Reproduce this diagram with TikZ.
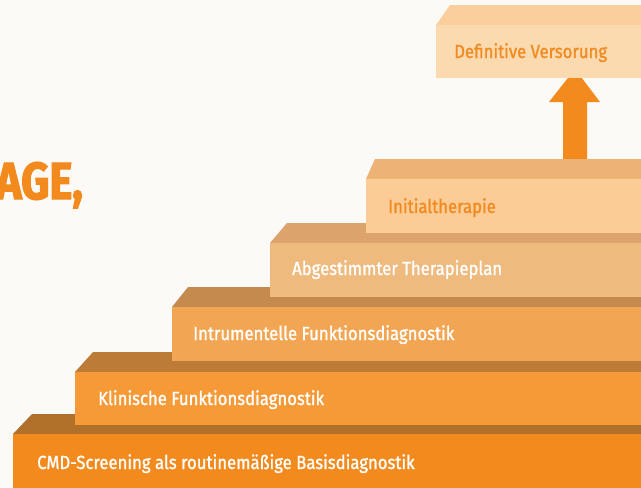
\documentclass[tikz,border=0pt]{standalone}
\usepackage{fontspec}
\setmainfont{Fira Sans}[FakeStretch=0.86]
\newfontfamily\lblfont{Fira Sans}[FakeStretch=0.88,FakeBold=1.2]
\newfontfamily\agefont{Fira Sans}[FakeStretch=0.84,FakeBold=2.5]
\definecolor{bg}{HTML}{FCFAF7}
\definecolor{f1}{HTML}{F28A1D}\definecolor{t1}{HTML}{B0702A}
\definecolor{f2}{HTML}{F59A37}\definecolor{t2}{HTML}{BC7B36}
\definecolor{f3}{HTML}{F2A653}\definecolor{t3}{HTML}{C58A4E}
\definecolor{f4}{HTML}{EEBA7D}\definecolor{t4}{HTML}{DCA46C}
\definecolor{f5}{HTML}{FBCC95}\definecolor{t5}{HTML}{EDB276}
\definecolor{f6}{HTML}{FCDAB0}\definecolor{t6}{HTML}{FBCF9C}
\definecolor{txto}{HTML}{F08B22}
\tikzset{
  lbl/.style={anchor=base west, inner sep=0pt, font=\lblfont\fontsize{19}{22}\selectfont},
  lblw/.style={lbl, text=white},
  lblo/.style={lbl, text=txto},
}
\newcommand{\stair}[7]{% xl, dx, yt, yf, yb, front, top
  \fill[#7] (#1,#4) -- (#1+#2,#3) -- (645,#3) -- (645,#4) -- cycle;
  \fill[#6] (#1,#4) rectangle (645,#5);
}
\begin{document}
\begin{tikzpicture}[x=1pt,y=-1pt]
\useasboundingbox (0,0) rectangle (641,488);
\clip (0,0) rectangle (641,488);
\fill[bg] (0,0) rectangle (641,488);
\node[anchor=base east, inner sep=0pt, text=f1, font=\agefont\fontsize{52}{56}\selectfont\bfseries] (age) at (83,199) {AGE,};
\stair{13}{19}{414}{434}{492}{f1}{t1}
\stair{75}{18}{352}{372}{425}{f2}{t2}
\stair{172}{16}{287}{307}{361}{f3}{t3}
\stair{270}{17}{223}{243}{297}{f4}{t4}
% arrow
\fill[f1] (563,168) -- (563,102) -- (549,102) -- (575,69) -- (600,102) -- (587,102) -- (587,168) -- cycle;
\stair{366}{9}{159}{179}{233}{f5}{t5}
\stair{436}{14}{5}{25}{78}{f6}{t6}
\node[lblw] (s1) at (37,469) {CMD-Screening als routinemäßige Basisdiagnostik};
\node[lblw] (s2) at (98,405) {Klinische Funktionsdiagnostik};
\node[lblw] (s3) at (193,340) {Intrumentelle Funktionsdiagnostik};
\node[lblw] (s4) at (292,275) {Abgestimmter Therapieplan};
\node[lblo] (s5) at (388,213) {Initialtherapie};
\node[lblo] (s6) at (454,58) {Definitive Versorung};
\end{tikzpicture}
\end{document}
